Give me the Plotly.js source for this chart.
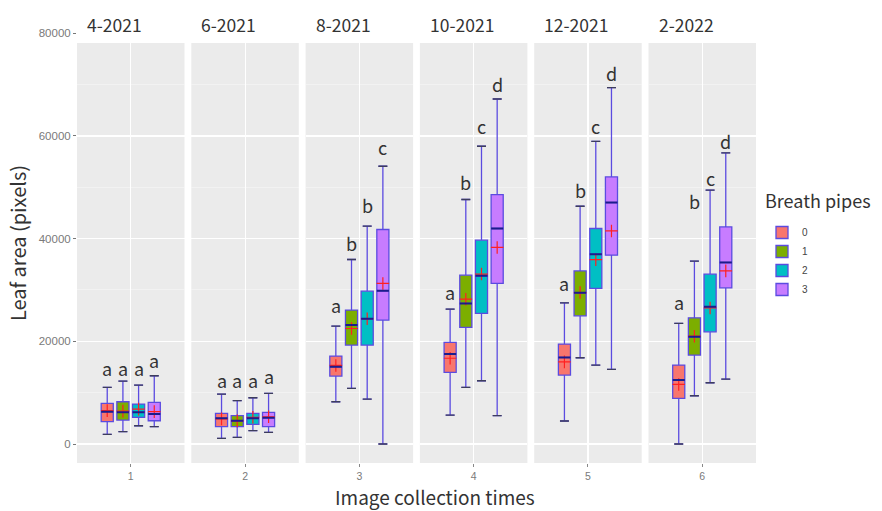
<!DOCTYPE html>
<html>
<head>
<meta charset="utf-8">
<script src="https://cdn.plot.ly/plotly-3.0.1.min.js"></script>
<style>html,body{margin:0;padding:0;background:#fff;}#chart{width:882px;height:511px;}</style>
</head>
<body>
<div id="chart"></div>
<script>
// Facet (panel) labels and tick labels
const times = ['4-2021', '6-2021', '8-2021', '10-2021', '12-2021', '2-2022'];
const xTicks = ['1', '2', '3', '4', '5', '6'];
const pipes = ['0', '1', '2', '3'];
const yTickVals = [0, 20000, 40000, 60000, 80000];
const yTickText = ['0', '20000', '40000', '60000', '80000'];

// Box statistics per breath-pipe group, one value per collection time
const upper0 = [11030, 9730, 22960, 26270, 27500, 23490];
const q3_0   = [7920, 5970, 17120, 19790, 19460, 15370];
const med0   = [6290, 5000, 15040, 17510, 16870, 12450];
const q1_0   = [4340, 3370, 13230, 13950, 13430, 8890];
const lower0 = [1890, 1110, 8230, 5640, 4480, 0];
const mean0  = [6500, 4900, 15300, 16700, 16000, 11600];

const upper1 = [12260, 8430, 35940, 47620, 46310, 35610];
const q3_1   = [8230, 5510, 26080, 32890, 33720, 24580];
const med1   = [6170, 4530, 23160, 27380, 29440, 20880];
const q1_1   = [4670, 3370, 19270, 22710, 24970, 17320];
const lower1 = [2400, 1300, 10840, 11030, 16800, 9400];
const mean1  = [6400, 4500, 22500, 28200, 29500, 21000];

const upper2 = [11480, 9010, 42420, 57990, 58960, 49430];
const q3_2   = [7780, 5970, 29770, 39700, 41970, 33080];
const med2   = [6170, 5000, 24380, 32750, 36970, 26720];
const q1_2   = [5200, 3830, 19270, 25430, 30300, 21850];
const lower2 = [3560, 2590, 8760, 12320, 15370, 11930];
const mean2  = [6800, 5200, 24400, 33100, 35900, 26500];

const upper3 = [13290, 9860, 54100, 67200, 69400, 56690];
const q3_3   = [8110, 6170, 41780, 48590, 52020, 42290];
const med3   = [5840, 5120, 29830, 41970, 47030, 35360];
const q1_3   = [4530, 3370, 24130, 31270, 36780, 30420];
const lower3 = [3370, 2270, 0, 5510, 14540, 12650];
const mean3  = [6300, 5300, 31270, 38280, 41500, 33720];

// Significance letters and their heights
const letters0 = ['a', 'a', 'a', 'a', 'a', 'a'];
const letters1 = ['a', 'a', 'b', 'b', 'b', 'b'];
const letters2 = ['a', 'a', 'b', 'c', 'c', 'c'];
const letters3 = ['a', 'a', 'c', 'd', 'd', 'd'];
const letterY0 = [14730, 12450, 27050, 29520, 31270, 27690];
const letterY1 = [14730, 12450, 39110, 51040, 49430, 47350];
const letterY2 = [14730, 12450, 46510, 61880, 61880, 51760];
const letterY3 = [16350, 13230, 57800, 70190, 72260, 58960];

const stats = [
  {upper: upper0, q3: q3_0, med: med0, q1: q1_0, lower: lower0, mean: mean0, letters: letters0, ly: letterY0},
  {upper: upper1, q3: q3_1, med: med1, q1: q1_1, lower: lower1, mean: mean1, letters: letters1, ly: letterY1},
  {upper: upper2, q3: q3_2, med: med2, q1: q1_2, lower: lower2, mean: mean2, letters: letters2, ly: letterY2},
  {upper: upper3, q3: q3_3, med: med3, q1: q1_3, lower: lower3, mean: mean3, letters: letters3, ly: letterY3}
];

const fills = ['#F8766D', '#7CAE00', '#00BFC4', '#C77CFF'];
const outline = '#5B4BE0';
const dodge = 0.175;
const bw = 0.135;
const capw = 0.10;
const titleFont = 'Noto Sans CJK JP, Noto Sans, sans-serif';

const W = 882, H = 511;
const mL = 77, mR = 126, mT = 23, mB = 48;
const plotW = W - mL - mR, plotH = H - mT - mB;
const panelW = 107.5;
const gap = (plotW - 6 * panelW) / 5;
const py = (pix) => (mT + plotH - pix) / plotH;   // pixel row -> paper y
const px = (pix) => (pix - mL) / plotW;           // pixel col -> paper x

const traces = [];
const annotations = [];
const layout = {
  width: W, height: H,
  margin: {l: mL, r: mR, t: mT, b: mB},
  paper_bgcolor: '#FFFFFF',
  plot_bgcolor: '#EBEBEB',
  boxmode: 'overlay',
  showlegend: true,
  font: {family: 'Liberation Sans, Arial, sans-serif', color: '#333'},
  yaxis: {
    anchor: 'x',
    range: [-3700, 82000],
    tickmode: 'array', tickvals: yTickVals, ticktext: yTickText,
    ticks: 'outside', ticklen: 3, tickcolor: '#777', tickwidth: 1,
    tickfont: {size: 11.5, color: '#7a7a7a', family: 'Liberation Sans, Arial, sans-serif'},
    showgrid: true, gridcolor: '#FFFFFF', gridwidth: 1.1,
    minor: {tickvals: [10000, 30000, 50000, 70000], showgrid: true, gridcolor: '#F6F6F6', gridwidth: 0.6, ticks: ''},
    zeroline: false, showline: false,
    title: {text: 'Leaf area (pixels)', font: {size: 20, color: '#333', family: titleFont}, standoff: 6}
  },
  legend: {
    x: px(762), y: py(218),
    xanchor: 'left', yanchor: 'top',
    bgcolor: 'rgba(0,0,0,0)',
    font: {size: 10, color: '#444'},
    tracegroupgap: 0,
    itemwidth: 30
  },
  shapes: [],
  annotations: annotations
};

for (let i = 0; i < 6; i++) {
  const xa = i === 0 ? 'x' : 'x' + (i + 1);
  const axKey = i === 0 ? 'xaxis' : 'xaxis' + (i + 1);
  const c = i + 1;
  const left = i * (panelW + gap);
  layout[axKey] = {
    domain: [left / plotW, (left + panelW) / plotW],
    anchor: 'y',
    range: [c - 0.6, c + 0.6],
    tickmode: 'array', tickvals: [c], ticktext: [xTicks[i]],
    ticks: 'outside', ticklen: 3, tickcolor: '#888',
    tickfont: {size: 10.5, color: '#7a7a7a'},
    showgrid: true, gridcolor: '#FFFFFF', gridwidth: 1.1,
    zeroline: false, showline: false
  };
  const medX = [], medY = [], capX = [], capY = [];
  for (let p = 0; p < 4; p++) {
    const s = stats[p];
    const pos = c + (p - 1.5) * dodge;
    traces.push({
      type: 'box', xaxis: xa, yaxis: 'y',
      name: pipes[p], legendgroup: pipes[p], showlegend: i === 0,
      x: [pos], q1: [s.q1[i]], median: [s.med[i]], q3: [s.q3[i]],
      lowerfence: [s.lower[i]], upperfence: [s.upper[i]],
      width: bw, whiskerwidth: capw / bw,
      fillcolor: fills[p], line: {color: outline, width: 1.3},
      boxpoints: false, hoverinfo: 'y'
    });
    medX.push(pos - bw / 2, pos + bw / 2, null);
    medY.push(s.med[i], s.med[i], null);
    capX.push(pos - capw / 2, pos + capw / 2, null, pos - capw / 2, pos + capw / 2, null);
    capY.push(s.upper[i], s.upper[i], null, s.lower[i], s.lower[i], null);
    traces.push({
      type: 'scatter', mode: 'markers', xaxis: xa, yaxis: 'y', showlegend: false,
      x: [pos], y: [s.mean[i]],
      marker: {symbol: 'cross-thin', size: 9, line: {color: '#FF2020', width: 1.2}},
      hoverinfo: 'y'
    });
    annotations.push({
      xref: xa, yref: 'y', x: pos, y: s.ly[i], text: s.letters[i],
      showarrow: false, xanchor: 'center', yanchor: 'middle',
      font: {size: 18, color: '#333', family: titleFont}
    });
  }
  traces.push({type: 'scatter', mode: 'lines', xaxis: xa, yaxis: 'y', showlegend: false, hoverinfo: 'skip',
    x: medX, y: medY, line: {color: '#1C1C8C', width: 2}});
  traces.push({type: 'scatter', mode: 'lines', xaxis: xa, yaxis: 'y', showlegend: false, hoverinfo: 'skip',
    x: capX, y: capY, line: {color: '#3D3D5C', width: 1.3}});
  // strip label
  annotations.push({
    xref: 'paper', yref: 'paper',
    x: (left + 8) / plotW, y: py(25),
    xanchor: 'left', yanchor: 'middle', showarrow: false,
    text: times[i],
    font: {size: 17.5, color: '#333', family: titleFont}
  });
}

// White strip band covering the top of the panels
layout.shapes.push({
  type: 'rect', xref: 'paper', yref: 'paper', layer: 'above',
  x0: 0, x1: 1, y0: py(43), y1: 1.01,
  fillcolor: '#FFFFFF', line: {width: 0}
});

// legend title
annotations.push({
  xref: 'paper', yref: 'paper', x: px(763), y: py(200),
  xanchor: 'left', yanchor: 'middle', showarrow: false,
  text: 'Breath pipes', font: {size: 18, color: '#333', family: titleFont}
});

// x axis title
annotations.push({
  xref: 'paper', yref: 'paper',
  x: px(435), y: py(497),
  xanchor: 'center', yanchor: 'middle', showarrow: false,
  text: 'Image collection times',
  font: {size: 19, color: '#333', family: titleFont}
});

Plotly.newPlot('chart', traces, layout, {displayModeBar: false, staticPlot: true});
</script>
</body>
</html>
